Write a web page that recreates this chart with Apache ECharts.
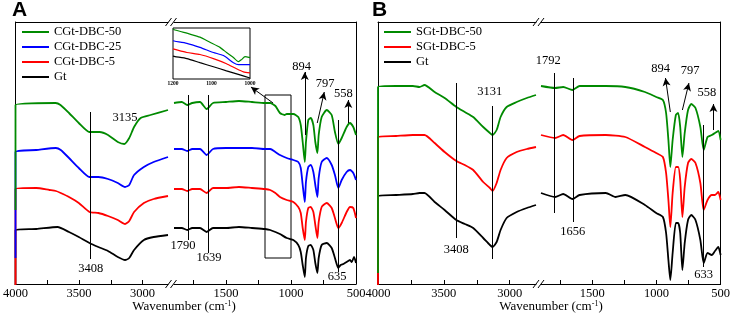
<!DOCTYPE html>
<html>
<head>
<meta charset="utf-8">
<title>FTIR spectra</title>
<script src="https://cdn.jsdelivr.net/npm/echarts@6/dist/echarts.min.js"></script>
<style>
html, body { margin: 0; padding: 0; background: #fff; }
#main { width: 733px; height: 321px; }
</style>
</head>
<body>
<div id="main"></div>
<script>
// values are [wavenumber, stacked transmittance (a.u.)]
// panel A, 4000-2800 cm-1
var aGreenHigh = [[4000,74],[4000,179],[3685,181],[3646,179],[3579,171],[3502,161],[3418,152],[3338,152],[3272,149],[3195,142],[3144,140],[3105,146],[3067,157],[3015,166],[2938,169],[2800,174]];
var aBlueHigh = [[4000,26],[4000,132],[3836,134],[3682,136],[3644,134],[3579,126],[3502,116],[3418,107],[3348,107],[3272,105],[3195,101],[3138,97],[3105,99],[3067,109],[2990,117],[2913,122],[2800,127]];
var aRedHigh = [[4000,-20],[4000,95],[3836,96],[3733,94],[3682,93],[3644,91],[3579,87],[3502,81],[3418,72],[3348,71],[3272,68],[3195,64],[3138,60],[3105,63],[3067,72],[2990,81],[2913,85],[2800,88]];
var aBlackHigh = [[4000,-60],[4000,54],[3836,55],[3669,57],[3579,52],[3502,47],[3418,41],[3348,37],[3272,33],[3195,27],[3138,24],[3105,26],[3067,34],[2990,44],[2913,47],[2800,49]];
// panel A, 1900-500 cm-1
var aGreenLow = [[1900,181],[1840,182],[1798,179],[1760,181],[1700,182],[1649,175],[1600,181],[1500,182],[1400,183],[1300,182],[1200,181],[1160,181],[1120,178],[1085,171],[1050,169],[1033,170],[982,170],[944,167],[925,159],[910,142],[894,122],[885,142],[867,164],[848,166],[828,159],[813,142],[797,131],[787,149],[764,167],[725,174],[687,169],[662,152],[636,140],[610,146],[572,157],[546,161],[521,157],[500,149]];
var aBlueLow = [[1900,135],[1840,135],[1798,133],[1760,135],[1700,135],[1649,129],[1600,135],[1500,136],[1400,136],[1300,136],[1200,135],[1160,135],[1120,132],[1085,129],[1033,126],[982,124],[944,122],[925,116],[910,99],[894,82],[885,102],[867,117],[848,119],[828,112],[813,99],[797,87],[787,106],[764,122],[725,126],[687,119],[662,109],[636,96],[610,104],[572,112],[546,114],[521,111],[500,104]];
var aRedLow = [[1900,95],[1840,95],[1798,93],[1760,95],[1700,95],[1649,91],[1600,96],[1500,96],[1400,97],[1300,96],[1200,95],[1160,94],[1120,91],[1085,87],[1033,84],[982,82],[944,77],[925,71],[910,56],[894,44],[885,62],[867,76],[848,77],[828,72],[813,59],[797,46],[787,62],[764,77],[725,81],[687,76],[662,66],[636,56],[610,61],[572,72],[546,77],[521,76],[500,66]];
var aBlackLow = [[1900,56],[1840,56],[1798,54],[1760,56],[1700,56],[1649,52],[1600,56],[1500,56],[1400,57],[1300,56],[1200,55],[1160,54],[1120,52],[1085,50],[1033,46],[982,44],[944,39],[925,32],[910,19],[894,7],[885,26],[867,38],[848,39],[828,34],[813,21],[797,11],[787,26],[764,39],[725,41],[687,36],[662,26],[636,16],[618,19],[597,20],[572,22],[546,24],[533,22],[515,27],[500,21]];
// panel A inset, 1200-1000 cm-1
var insetGreen = [[1200,49],[1195,48],[1156,44],[1130,41],[1104,36],[1078,31],[1061,26],[1043,21],[1030,17],[1022,19],[1013,22],[1000,21]];
var insetBlue = [[1200,37.5],[1195,37],[1164,35],[1130,31],[1095,26],[1069,23],[1043,16],[1030,14],[1017,14],[1000,14]];
var insetRed = [[1200,29.5],[1195,29],[1164,26],[1130,24],[1095,20],[1061,15],[1035,10],[1017,7],[1000,6]];
var insetBlack = [[1200,22.5],[1195,22],[1164,20],[1130,16],[1095,12],[1061,8],[1026,4],[1000,1]];
// panel B, 4000-2800 cm-1
var bGreenHigh = [[4000,11],[4000,197],[3863,198],[3735,198],[3685,197],[3647,199],[3570,192],[3494,186],[3405,177],[3341,172],[3277,167],[3201,157],[3150,151],[3130,149],[3099,154],[3069,167],[3023,177],[2947,182],[2870,186],[2800,189]];
var bRedHigh = [[4000,-40],[4000,147],[3863,148],[3735,149],[3647,149],[3570,141],[3494,132],[3405,123],[3341,119],[3277,114],[3201,102],[3150,96],[3130,93],[3099,101],[3069,114],[3023,126],[2947,132],[2870,135],[2800,137]];
var bBlackHigh = [[4000,-80],[4000,88],[3863,89],[3735,90],[3685,91],[3647,91],[3570,82],[3494,74],[3405,64],[3341,60],[3277,56],[3201,46],[3150,39],[3130,37],[3099,42],[3069,54],[3023,66],[2947,72],[2870,76],[2800,79]];
// panel B, 1900-500 cm-1
var bGreenLow = [[1900,198],[1790,196],[1727,197],[1655,194],[1599,198],[1395,198],[1243,197],[1090,192],[1002,187],[950,184],[925,171],[907,144],[892,117],[874,144],[849,169],[831,171],[815,157],[798,127],[780,151],[754,174],[729,180],[696,176],[658,157],[632,134],[602,147],[569,149],[544,151],[518,153],[500,144]];
var bRedLow = [[1900,149],[1790,146],[1727,149],[1655,144],[1599,148],[1395,149],[1243,147],[1090,137],[1002,131],[950,127],[925,111],[907,84],[892,57],[874,91],[849,117],[831,117],[815,104],[798,67],[780,97],[754,121],[729,125],[696,121],[658,101],[632,74],[602,84],[569,89],[544,89],[518,92],[500,84]];
var bBlackLow = [[1900,91],[1790,87],[1727,90],[1655,85],[1599,89],[1395,91],[1319,87],[1243,89],[1090,79],[1002,71],[950,67],[925,51],[907,24],[892,4],[874,31],[849,61],[831,61],[815,51],[798,14],[780,41],[754,64],[729,69],[696,64],[658,44],[632,21],[602,31],[569,29],[544,33],[518,37],[500,29]];

// annotations: lines [wn, from, to], arrows [wn1, v1, wn2, v2], texts [label, wn, v]
var aHighLines = [[3408, 172, 25]];
var aHighTexts = [['3135', 3138, 166], ['3408', 3408, 15]];
var aLowLines = [[1790, 189, 44], [1639, 189, 31], [636, 164, 12]];
var aLowArrows = [[894, 149, 894, 212], [798, 161, 744, 192], [559, 161, 559, 184], [1138, 181, 1308, 197]];
var aLowTexts = [['1790', 1831, 38], ['1639', 1631, 26], ['635', 646, 7], ['894', 918, 217], ['797', 738, 200], ['558', 598, 190]];
var aBox = [1200, 189, 1000, 26];
var bHighLines = [[3408, 201, 46], [3131, 178, 25]];
var bHighTexts = [['3408', 3405, 34], ['3131', 3152, 192]];
var bLowLines = [[1793, 211, 71], [1652, 206, 62], [633, 159, 17]];
var bLowArrows = [[892, 172, 930, 206], [798, 174, 747, 201], [556, 154, 556, 180]];
var bLowTexts = [['1792', 1844, 223], ['1656', 1653, 52], ['633', 632, 9], ['894', 967, 215], ['797', 737, 213], ['558', 607, 191]];

var highTicks = [4000, 3750, 3500, 3250, 3000];
var highLabels = [4000, 3500, 3000];
var lowTicks = [1750, 1500, 1250, 1000, 750, 500];
var lowLabels = [1500, 1000, 500];
var insetLabels = [1200, 1100, 1000];

var legendA = ['CGt-DBC-50', 'CGt-DBC-25', 'CGt-DBC-5', 'Gt'];
var legendB = ['SGt-DBC-50', 'SGt-DBC-5', 'Gt'];

var SERIF = 'Liberation Serif';
var GREEN = '#008a00', BLUE = '#0000ff', RED = '#ff0000', BLACK = '#000000';

var chart = echarts.init(document.getElementById('main'));

function plain(v) { return String(v); }

function bottomAxis(gi, min, max, ticks, labels) {
    return {
        type: 'value', gridIndex: gi, min: min, max: max, inverse: true, position: 'bottom',
        axisLine: { show: true, onZero: false, lineStyle: { color: '#000', width: 1 } },
        axisTick: { show: true, inside: true, length: 4, customValues: ticks, lineStyle: { color: '#000' } },
        axisLabel: { show: true, customValues: labels, formatter: plain, color: '#000', fontFamily: SERIF, fontSize: 12.5, margin: 3 },
        splitLine: { show: false }
    };
}
function topAxis(gi, min, max) {
    return {
        type: 'value', gridIndex: gi, min: min, max: max, inverse: true, position: 'top',
        axisLine: { show: true, onZero: false, lineStyle: { color: '#000', width: 1 } },
        axisTick: { show: false }, axisLabel: { show: false }, splitLine: { show: false }
    };
}
function sideAxis(gi, pos, max) {
    return {
        type: 'value', gridIndex: gi, min: 0, max: max, position: pos,
        axisLine: { show: true, onZero: false, lineStyle: { color: '#000', width: 1 } },
        axisTick: { show: false }, axisLabel: { show: false }, splitLine: { show: false }
    };
}
function spectrum(name, color, data, idx, width, z) {
    return {
        type: 'line', name: name, xAxisIndex: idx, yAxisIndex: idx, data: data,
        symbol: 'none', smooth: 0.2, silent: true, z: z || 3,
        lineStyle: { color: color, width: width || 1.8 }, itemStyle: { color: color },
        emphasis: { disabled: true }
    };
}
function annotate(series, lines, arrows, texts, box) {
    var ml = [];
    lines.forEach(function (l) {
        ml.push([{ coord: [l[0], l[1]] }, { coord: [l[0], l[2]] }]);
    });
    (arrows || []).forEach(function (a) {
        ml.push([{ coord: [a[0], a[1]], symbol: 'none' }, { coord: [a[2], a[3]], symbol: 'arrow', symbolSize: [6, 8] }]);
    });
    series.markLine = {
        silent: true, symbol: ['none', 'none'], label: { show: false }, animation: false,
        lineStyle: { color: '#000', width: 1, type: 'solid' }, emphasis: { disabled: true },
        data: ml
    };
    series.markPoint = {
        silent: true, symbol: 'rect', symbolSize: 1, itemStyle: { color: 'rgba(0,0,0,0)' }, animation: false,
        label: { show: true, position: 'inside', formatter: '{b}', color: '#000', fontFamily: SERIF, fontSize: 12.5 },
        data: texts.map(function (t) { return { name: t[0], coord: [t[1], t[2]] }; })
    };
    if (box) {
        series.markArea = {
            silent: true, animation: false, label: { show: false },
            itemStyle: { color: 'rgba(0,0,0,0)', borderColor: '#000', borderWidth: 1 },
            data: [[{ coord: [box[0], box[1]] }, { coord: [box[2], box[3]] }]]
        };
    }
    return series;
}
function breakMark(xc, yc) {
    return [-2.5, 2.5].map(function (dx) {
        return {
            type: 'line', silent: true, z: 10,
            shape: { x1: xc + dx - 3, y1: yc + 4, x2: xc + dx + 3, y2: yc - 4 },
            style: { stroke: '#000', lineWidth: 1 }
        };
    });
}
function axisTitle(x) {
    return {
        type: 'text', x: x, y: 307,
        style: {
            text: '{n|Wavenumber (cm}{s|-1}{n|)}', align: 'center', verticalAlign: 'middle',
            rich: {
                n: { fontFamily: SERIF, fontSize: 13, fill: '#000' },
                s: { fontFamily: SERIF, fontSize: 8, fill: '#000', verticalAlign: 'top', padding: [0, 0, 6, 0] }
            }
        }
    };
}

var series = [
    annotate(spectrum('Gt', BLACK, aBlackHigh, 0), aHighLines, [], aHighTexts),
    spectrum('CGt-DBC-5', RED, aRedHigh, 0),
    spectrum('CGt-DBC-25', BLUE, aBlueHigh, 0),
    spectrum('CGt-DBC-50', GREEN, aGreenHigh, 0),
    annotate(spectrum('Gt', BLACK, aBlackLow, 1), aLowLines, aLowArrows, aLowTexts, aBox),
    spectrum('CGt-DBC-5', RED, aRedLow, 1),
    spectrum('CGt-DBC-25', BLUE, aBlueLow, 1),
    spectrum('CGt-DBC-50', GREEN, aGreenLow, 1),
    annotate(spectrum('Gt', BLACK, bBlackHigh, 2), bHighLines, [], bHighTexts),
    spectrum('SGt-DBC-5', RED, bRedHigh, 2),
    spectrum('SGt-DBC-50', GREEN, bGreenHigh, 2),
    annotate(spectrum('Gt', BLACK, bBlackLow, 3), bLowLines, bLowArrows, bLowTexts),
    spectrum('SGt-DBC-5', RED, bRedLow, 3),
    spectrum('SGt-DBC-50', GREEN, bGreenLow, 3),
    spectrum('Gt', BLACK, insetBlack, 4, 1.2, 8),
    spectrum('CGt-DBC-5', RED, insetRed, 4, 1.2, 8),
    spectrum('CGt-DBC-25', BLUE, insetBlue, 4, 1.2, 8),
    spectrum('CGt-DBC-50', GREEN, insetGreen, 4, 1.2, 8)
];

var legendStyle = { fontFamily: SERIF, fontSize: 12.5, color: '#000', lineHeight: 15 };

var option = {
    animation: false,
    backgroundColor: '#fff',
    grid: [
        { left: 12, top: 22, width: 156, height: 262 },
        { left: 174, top: 22, width: 182, height: 262 },
        { left: 378, top: 22, width: 158, height: 262 },
        { left: 541, top: 22, width: 183, height: 262 },
        { left: 173, top: 28, width: 77, height: 51, show: true, borderColor: '#000', borderWidth: 1, backgroundColor: '#fff', z: 5 }
    ],
    xAxis: [
        bottomAxis(0, 2800, 4000, highTicks, highLabels),
        bottomAxis(1, 500, 1900, lowTicks, lowLabels),
        bottomAxis(2, 2800, 4000, highTicks, highLabels),
        bottomAxis(3, 500, 1900, lowTicks, lowLabels),
        {
            type: 'value', gridIndex: 4, min: 1000, max: 1200, inverse: true, z: 8,
            axisLine: { show: false, onZero: false }, axisTick: { show: false }, splitLine: { show: false },
            axisLabel: { customValues: insetLabels, formatter: plain, color: '#000', fontFamily: SERIF, fontSize: 5.5, fontWeight: 'bold', margin: 2 }
        },
        topAxis(0, 2800, 4000),
        topAxis(1, 500, 1900),
        topAxis(2, 2800, 4000),
        topAxis(3, 500, 1900)
    ],
    yAxis: [
        sideAxis(0, 'left', 262),
        sideAxis(1, 'right', 262),
        sideAxis(2, 'left', 262),
        sideAxis(3, 'right', 262),
        { type: 'value', gridIndex: 4, min: 0, max: 50, show: false }
    ],
    legend: [
        {
            data: legendA, left: 22, top: 24.5, orient: 'vertical', padding: 0, itemGap: 0,
            icon: 'rect', itemWidth: 27, itemHeight: 2, selectedMode: false, textStyle: legendStyle
        },
        {
            data: legendB, left: 384, top: 24.5, orient: 'vertical', padding: 0, itemGap: 0,
            icon: 'rect', itemWidth: 27, itemHeight: 2, selectedMode: false, textStyle: legendStyle
        }
    ],
    graphic: [
        { type: 'text', x: 12, y: 0, style: { text: 'A', font: 'bold 21px "Liberation Sans"', fill: '#000' } },
        { type: 'text', x: 372, y: 0, style: { text: 'B', font: 'bold 21px "Liberation Sans"', fill: '#000' } },
        axisTitle(184),
        axisTitle(551)
    ].concat(breakMark(171, 284), breakMark(171, 22), breakMark(538.5, 284), breakMark(538.5, 22)),
    series: series
};

chart.setOption(option);
</script>
</body>
</html>
